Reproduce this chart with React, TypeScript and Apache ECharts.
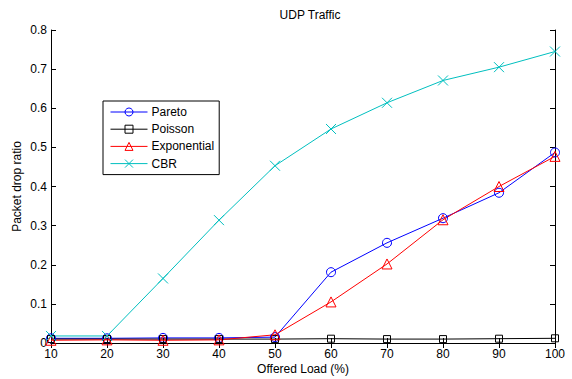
import React, { useEffect, useRef } from "react";
import * as echarts from "echarts";

const offeredLoad = [10, 20, 30, 40, 50, 60, 70, 80, 90, 100];
const pareto = [0.012, 0.012, 0.013, 0.013, 0.015, 0.181, 0.256, 0.319, 0.384, 0.487];
const poisson = [0.01, 0.01, 0.01, 0.01, 0.01, 0.011, 0.01, 0.01, 0.011, 0.012];
const exponential = [0.007, 0.008, 0.007, 0.008, 0.021, 0.105, 0.202, 0.315, 0.4, 0.477];
const cbr = [0.018, 0.018, 0.165, 0.314, 0.453, 0.547, 0.614, 0.671, 0.705, 0.745];

const FONT = "'Liberation Sans', Arial, Helvetica, sans-serif";
const CROSS = "path://M0,0L10,10M10,0L0,10";

function mk(name: string, data: number[], color: string, symbol: string, size: number) {
  return {
    name,
    type: "line",
    data: offeredLoad.map((x, i) => [x, data[i]]),
    symbol,
    symbolSize: size,
    showAllSymbol: true,
    lineStyle: { color, width: 1 },
    itemStyle: {
      color: symbol === CROSS ? color : "rgba(255,255,255,0)",
      borderColor: color,
      borderWidth: 1,
    },
    emphasis: { disabled: true },
  };
}

export default function App() {
  const ref = useRef<HTMLDivElement>(null);
  useEffect(() => {
    const chart = echarts.init(ref.current!, undefined, { renderer: "svg" });
    const tickStyle = { color: "#000", width: 1 };
    chart.setOption({
      animation: false,
      backgroundColor: "#fff",
      textStyle: { fontFamily: FONT },
      title: {
        text: "UDP Traffic",
        left: 305,
        textAlign: "center",
        top: 4,
        textStyle: { fontSize: 12, fontWeight: "normal", color: "#000", fontFamily: FONT },
      },
      legend: {
        left: 103,
        top: 101,
        orient: "vertical",
        borderColor: "#000",
        borderWidth: 1,
        backgroundColor: "#fff",
        padding: [5, 5, 5, 7],
        itemWidth: 37,
        itemHeight: 10,
        itemGap: 5.2,
        itemStyle: { borderWidth: 1 },
        lineStyle: { width: 1 },
        textStyle: { fontSize: 12, color: "#000", fontFamily: FONT, padding: [0, 0, 0, -1] },
        data: ["Pareto", "Poisson", "Exponential", "CBR"],
      },
      grid: {
        left: 51,
        right: 17,
        top: 30,
        bottom: 36,
        containLabel: false,
        outerBoundsMode: "none",
      },
      xAxis: [
        {
          type: "value",
          min: 10,
          max: 100,
          interval: 10,
          name: "Offered Load (%)",
          nameLocation: "middle",
          nameGap: 20,
          nameMoveOverlap: false,
          nameTextStyle: { fontSize: 12, color: "#000", fontFamily: FONT },
          axisLine: { lineStyle: tickStyle },
          axisTick: { inside: true, length: 5, lineStyle: tickStyle },
          axisLabel: { color: "#000", fontSize: 12, margin: 5, lineHeight: 12, fontFamily: FONT },
          splitLine: { show: false },
        },
        {
          type: "value",
          position: "top",
          min: 10,
          max: 100,
          interval: 10,
          axisLine: { lineStyle: tickStyle },
          axisTick: { inside: true, length: 5, lineStyle: tickStyle },
          axisLabel: { show: false },
          splitLine: { show: false },
        },
      ],
      yAxis: [
        {
          type: "value",
          min: 0,
          max: 0.8,
          interval: 0.1,
          name: "Packet drop ratio",
          nameLocation: "middle",
          nameGap: 28,
          nameMoveOverlap: false,
          nameTextStyle: { fontSize: 12, color: "#000", fontFamily: FONT },
          axisLine: { show: true, lineStyle: tickStyle },
          axisTick: { show: true, inside: true, length: 5, lineStyle: tickStyle },
          axisLabel: { color: "#000", fontSize: 12, margin: 4, lineHeight: 12, fontFamily: FONT },
          splitLine: { show: false },
        },
        {
          type: "value",
          position: "right",
          min: 0,
          max: 0.8,
          interval: 0.1,
          axisLine: { show: true, lineStyle: tickStyle },
          axisTick: { show: true, inside: true, length: 5, lineStyle: tickStyle },
          axisLabel: { show: false },
          splitLine: { show: false },
        },
      ],
      series: [
        mk("Pareto", pareto, "#0000FF", "circle", 9),
        mk("Poisson", poisson, "#000000", "rect", 7),
        mk("Exponential", exponential, "#FF0000", "triangle", 10),
        mk("CBR", cbr, "#00BFBF", CROSS, 10),
      ],
    });
    return () => chart.dispose();
  }, []);
  return (
    <div
      ref={ref}
      style={{ position: "fixed", left: 0, top: 0, width: 572, height: 379, background: "#fff" }}
    />
  );
}
